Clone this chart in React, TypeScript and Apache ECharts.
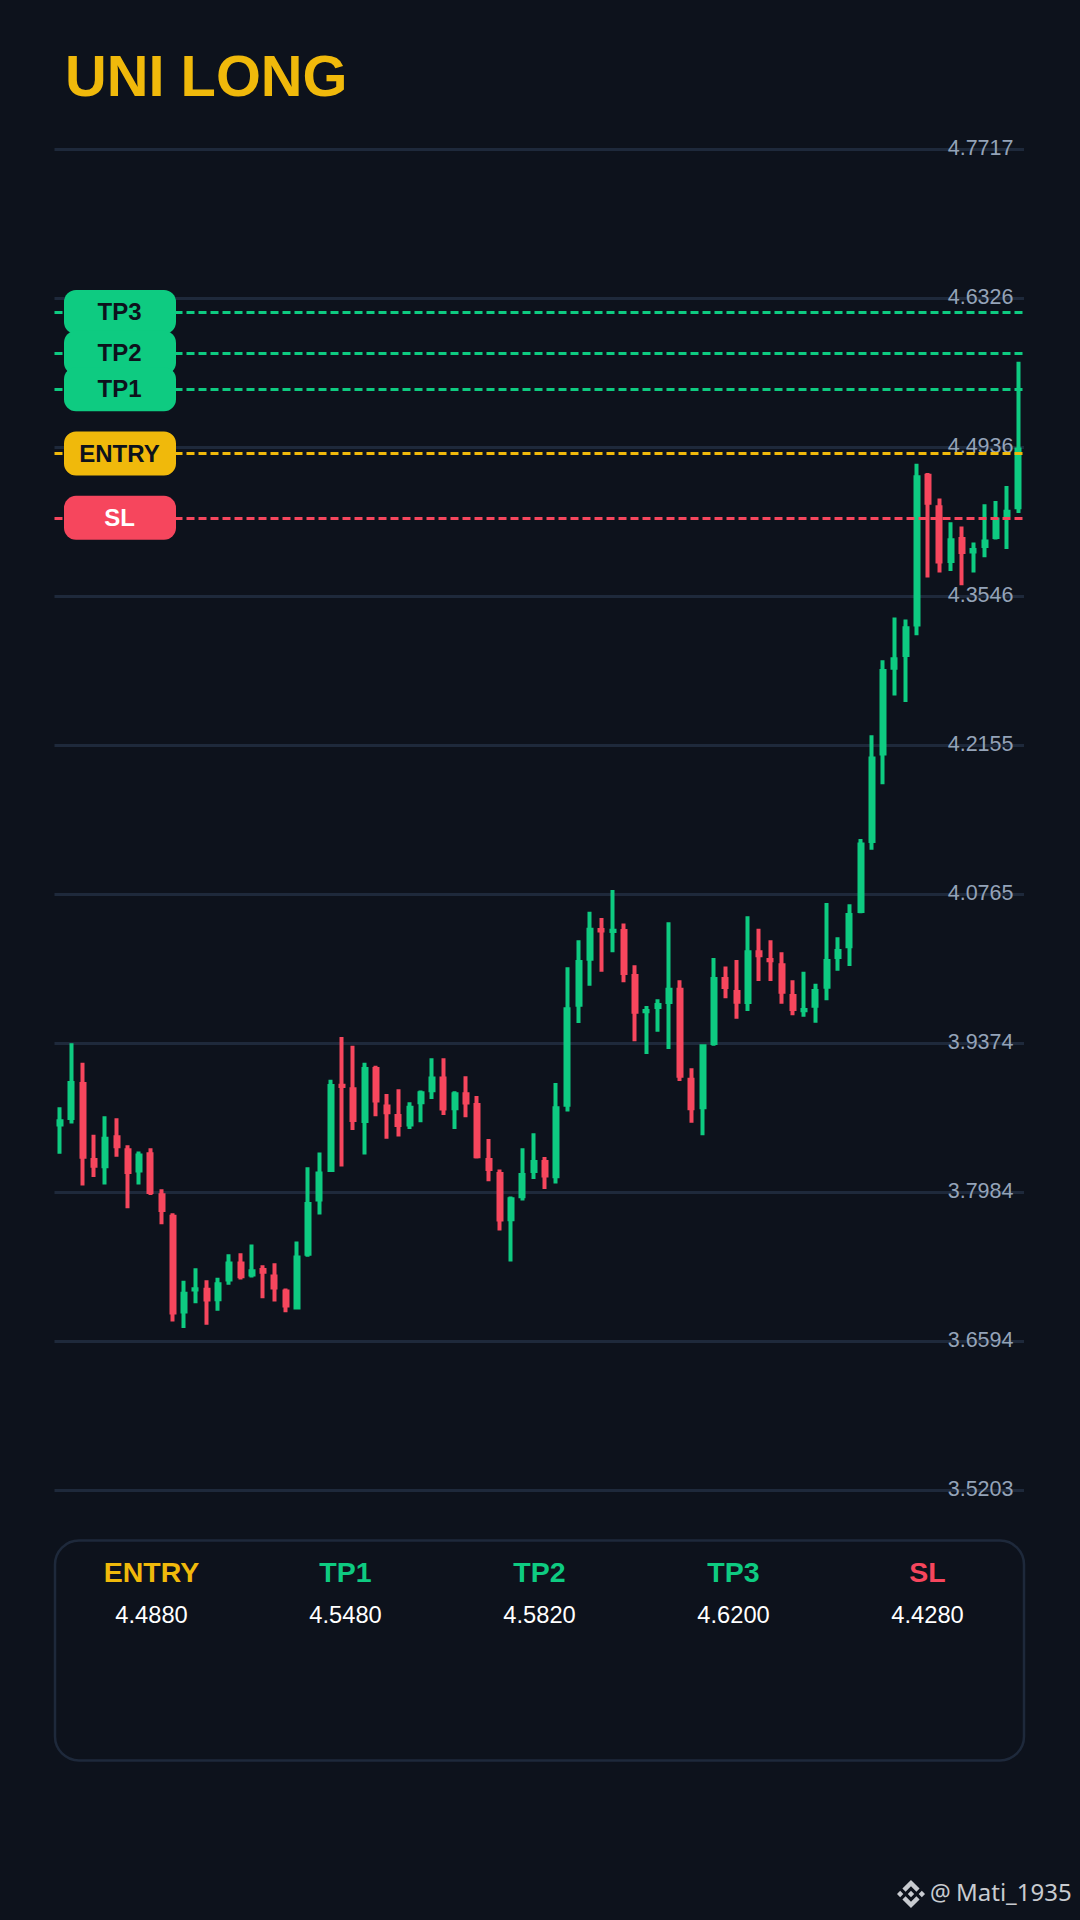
import React, { useEffect, useRef } from "react";
import * as echarts from "echarts";

const BG = "#0d121c";
const GREEN = "#0ecb81";
const RED = "#f6465d";
const YELLOW = "#f0b90b";
const GRID = "#1e293b";
const FONT = "'Liberation Sans', Arial, sans-serif";

const yTicks = [3.5203, 3.6594, 3.7984, 3.9374, 4.0765, 4.2155, 4.3546, 4.4936, 4.6326, 4.7717];

const opens = [
  3.8619, 3.8681, 3.8998, 3.8289, 3.823, 3.8501, 3.8379, 3.819, 3.8342, 3.796,
  3.7758, 3.6875, 3.708, 3.7077, 3.699, 3.7173, 3.7323, 3.722, 3.7263, 3.7201,
  3.7061, 3.6912, 3.7413, 3.7919, 3.8196, 3.8982, 3.8948, 3.8653, 3.9138, 3.8787,
  3.87, 3.8619, 3.8827, 3.8939, 3.9048, 3.8771, 3.8902, 3.8802, 3.8289, 3.8159,
  3.7736, 3.795, 3.8187, 3.8271, 3.8137, 3.8805, 3.9737, 4.0166, 4.0434, 4.0425,
  4.0425, 4.0005, 3.9677, 3.9716, 3.9763, 3.9877, 3.9038, 3.8781, 3.938, 3.9977,
  3.9856, 3.9763, 4.0226, 4.0154, 4.0105, 3.9819, 3.9686, 3.9728, 3.9905, 4.0182,
  4.0282, 4.0611, 4.1264, 4.2082, 4.2882, 4.3001, 4.3285, 4.4674, 4.4378, 4.3878,
  4.4083, 4.3965, 4.4018, 4.4102, 4.4307, 4.4378,
];
const closes = [
  3.865, 3.9007, 3.832, 3.8236, 3.8488, 3.8417, 3.8177, 3.833, 3.7991, 3.7823,
  3.6866, 3.704, 3.7083, 3.6987, 3.713, 3.7323, 3.7204, 3.7251, 3.7245, 3.7099,
  3.6931, 3.7379, 3.7879, 3.8162, 3.8979, 3.8979, 3.8662, 3.9138, 3.8843, 3.8734,
  3.8616, 3.8777, 3.8911, 3.9048, 3.8768, 3.8902, 3.8824, 3.8323, 3.8205, 3.7733,
  3.7922, 3.8149, 3.8271, 3.8143, 3.8771, 3.9694, 4.0136, 4.0437, 4.0431, 4.0427,
  4.0033, 3.9672, 3.9679, 3.9735, 3.9877, 3.9075, 3.8771, 3.9349, 3.9977, 3.9902,
  3.9765, 4.0226, 4.0198, 4.0152, 3.9859, 3.9697, 3.9688, 3.9865, 4.0145, 4.0238,
  4.0574, 4.1233, 4.2035, 4.2852, 4.2961, 4.325, 4.4658, 4.4422, 4.3872, 4.4071,
  4.3962, 4.398, 4.4059, 4.4264, 4.4338, 4.4919,
];
const highs = [
  3.878, 3.9377, 3.9197, 3.8525, 3.8696, 3.8678, 3.8426, 3.8367, 3.8398, 3.8016,
  3.7792, 3.7161, 3.7279, 3.7167, 3.7189, 3.741, 3.7419, 3.75, 3.7307, 3.7326,
  3.7089, 3.7528, 3.8221, 3.8358, 3.9038, 3.9436, 3.9355, 3.9197, 3.9169, 3.8905,
  3.8948, 3.8827, 3.8936, 3.9237, 3.9237, 3.893, 3.9069, 3.8886, 3.8485, 3.8199,
  3.7947, 3.8398, 3.8538, 3.8317, 3.9007, 4.0086, 4.0338, 4.0605, 4.0546, 4.0807,
  4.0496, 4.0105, 3.9725, 3.9788, 4.0506, 3.9965, 3.9144, 3.9368, 4.0173, 4.0095,
  4.0154, 4.0564, 4.0446, 4.0338, 4.0226, 3.9965, 4.0045, 3.9933, 4.0686, 4.0366,
  4.0674, 4.1283, 4.2252, 4.2952, 4.335, 4.3331, 4.4786, 4.4698, 4.446, 4.4239,
  4.4199, 4.4049, 4.4406, 4.4437, 4.4577, 4.5737,
];
const lows = [
  3.8348, 3.8628, 3.805, 3.8131, 3.8059, 3.832, 3.7839, 3.8059, 3.7963, 3.7689,
  3.6782, 3.672, 3.6953, 3.6751, 3.6881, 3.7124, 3.7173, 3.7192, 3.6999, 3.6968,
  3.6869, 3.6894, 3.7385, 3.7779, 3.8177, 3.8227, 3.8569, 3.8339, 3.8696, 3.8488,
  3.8507, 3.8578, 3.864, 3.8858, 3.8709, 3.8578, 3.8687, 3.8302, 3.809, 3.763,
  3.7341, 3.791, 3.8112, 3.8019, 3.8069, 3.874, 3.9567, 3.9915, 4.0045, 4.0226,
  3.9946, 3.9396, 3.9278, 3.9486, 3.9324, 3.9026, 3.8637, 3.852, 3.9355, 3.9797,
  3.9607, 3.9679, 3.9958, 3.9958, 3.9747, 3.9639, 3.9626, 3.957, 3.9778, 4.0054,
  4.0098, 4.059, 4.1183, 4.1795, 4.2623, 4.2563, 4.3185, 4.3723, 4.377, 4.3784,
  4.3651, 4.377, 4.3912, 4.4077, 4.399, 4.4325,
];

const pillNames = ["TP3", "TP2", "TP1", "ENTRY", "SL"];
const pillValues = [4.62, 4.582, 4.548, 4.488, 4.428];
const pillColors = [GREEN, GREEN, GREEN, YELLOW, RED];
const pillTextColors = ["#0d121c", "#0d121c", "#0d121c", "#0d121c", "#ffffff"];

const tableNames = ["ENTRY", "TP1", "TP2", "TP3", "SL"];
const tableValues = ["4.4880", "4.5480", "4.5820", "4.6200", "4.4280"];
const tableColors = [YELLOW, GREEN, GREEN, GREEN, RED];
const tableCenters = [151.5, 345.5, 539.5, 733.5, 927.5];

const LOGO_D =
  "M16.624 13.9202l2.7175 2.7154-7.353 7.353-7.353-7.352 2.7175-2.7164 4.6355 4.6595 4.6356-4.6595zm4.6366-4.6366L24 12l-2.7154 2.7164L18.5682 12l2.6924-2.7164zm-9.272.001l2.7163 2.6914-2.7164 2.7174v-.001L9.2721 12l2.7164-2.7154zm-9.2722-.001L5.4088 12l-2.6914 2.6924L0 12l2.7164-2.7164zM11.9885.0115l7.353 7.329-2.7174 2.7154-4.6356-4.6356-4.6355 4.6595-2.7174-2.7154 7.353-7.353z";
echarts.graphic.registerShape("binanceLogo", echarts.graphic.extendPath(LOGO_D, {}));

export default function App() {
  const ref = useRef<HTMLDivElement>(null);
  useEffect(() => {
    document.body.style.margin = "0";
    document.body.style.background = BG;
    const chart = echarts.init(ref.current!, null, { renderer: "svg" });
    const categories = opens.map((_, i) => String(i + 1));
    chart.setOption({
      animation: false,
      backgroundColor: BG,
      title: {
        text: "UNI LONG",
        left: 60,
        top: 42,
        textStyle: { color: YELLOW, fontFamily: FONT, fontWeight: "bold", fontSize: 57.8 },
      },
      grid: { left: 54.5, right: 56, top: 149.5, bottom: 429.3, containLabel: false },
      xAxis: {
        type: "category",
        data: categories,
        boundaryGap: true,
        axisLine: { show: false },
        axisTick: { show: false },
        axisLabel: { show: false },
        splitLine: { show: false },
      },
      yAxis: {
        type: "value",
        position: "right",
        min: yTicks[0],
        max: yTicks[yTicks.length - 1],
        axisLine: { show: false },
        axisTick: { show: false, customValues: yTicks },
        axisLabel: {
          inside: true,
          margin: 10.5,
          customValues: yTicks,
          formatter: (v: number) => `{tick|${v.toFixed(4)}}`,
          hideOverlap: false,
          rich: {
            tick: {
              color: "#94a3b8",
              fontFamily: FONT,
              fontSize: 21.5,
              padding: [0, 0, 3, 0],
            },
          },
        },
        splitLine: { show: true, lineStyle: { color: GRID, width: 3 } },
      },
      series: [
        {
          type: "candlestick",
          data: opens.map((o, i) => [o, closes[i], lows[i], highs[i]]),
          barWidth: 3.5,
          itemStyle: {
            color: GREEN,
            color0: RED,
            borderColor: GREEN,
            borderColor0: RED,
            borderWidth: 4,
          },
          markLine: {
            silent: true,
            symbol: "none",
            precision: 4,
            label: { show: false },
            data: pillValues.map((v, i) => ({
              yAxis: v,
              lineStyle: { color: pillColors[i], width: 3, type: [8, 4], opacity: 1 },
            })),
          },
        },
      ],
    });

    const pills: any[] = [];
    pillValues.forEach((v, i) => {
      const y = chart.convertToPixel({ yAxisIndex: 0 }, v) as number;
      pills.push({
        type: "rect",
        z: 100 + i,
        shape: { x: 64, y: y - 22, width: 112, height: 44, r: 12 },
        style: { fill: pillColors[i] },
      });
      pills.push({
        type: "text",
        z: 110 + i,
        x: 119.5,
        y: y - 0.5,
        style: {
          text: pillNames[i],
          fill: pillTextColors[i],
          font: `bold 24px ${FONT}`,
          align: "center",
          verticalAlign: "middle",
        },
      });
    });

    const table: any[] = [
      {
        type: "rect",
        z: 100,
        shape: { x: 55, y: 1540.5, width: 969, height: 220, r: 24 },
        style: { fill: "transparent", stroke: GRID, lineWidth: 2.5 },
      },
    ];
    tableNames.forEach((name, i) => {
      table.push({
        type: "text",
        z: 101,
        x: tableCenters[i],
        y: 1572,
        style: {
          text: name,
          fill: tableColors[i],
          font: `bold 28.5px ${FONT}`,
          align: "center",
          verticalAlign: "middle",
        },
      });
      table.push({
        type: "text",
        z: 101,
        x: tableCenters[i],
        y: 1614.5,
        style: {
          text: tableValues[i],
          fill: "#ffffff",
          font: `23.7px ${FONT}`,
          align: "center",
          verticalAlign: "middle",
        },
      });
    });

    const mark: any[] = [
      {
        type: "binanceLogo",
        z: 100,
        x: 897,
        y: 1880,
        scaleX: 28 / 24,
        scaleY: 28 / 24,
        style: { fill: "#c8cbd0" },
      },
      {
        type: "text",
        z: 100,
        x: 930,
        y: 1903,
        style: {
          text: "@",
          fill: "#c8cbd0",
          font: `23px 'Noto Sans', sans-serif`,
          align: "left",
          verticalAlign: "bottom",
        },
      },
      {
        type: "text",
        z: 100,
        x: 956,
        y: 1903.5,
        style: {
          text: "Mati_1935",
          fill: "#c8cbd0",
          font: `24px 'Noto Sans', sans-serif`,
          align: "left",
          verticalAlign: "bottom",
        },
      },
    ];

    chart.setOption({ graphic: [...pills, ...table, ...mark] });
    return () => chart.dispose();
  }, []);
  return <div ref={ref} style={{ width: 1080, height: 1920, background: BG }} />;
}
